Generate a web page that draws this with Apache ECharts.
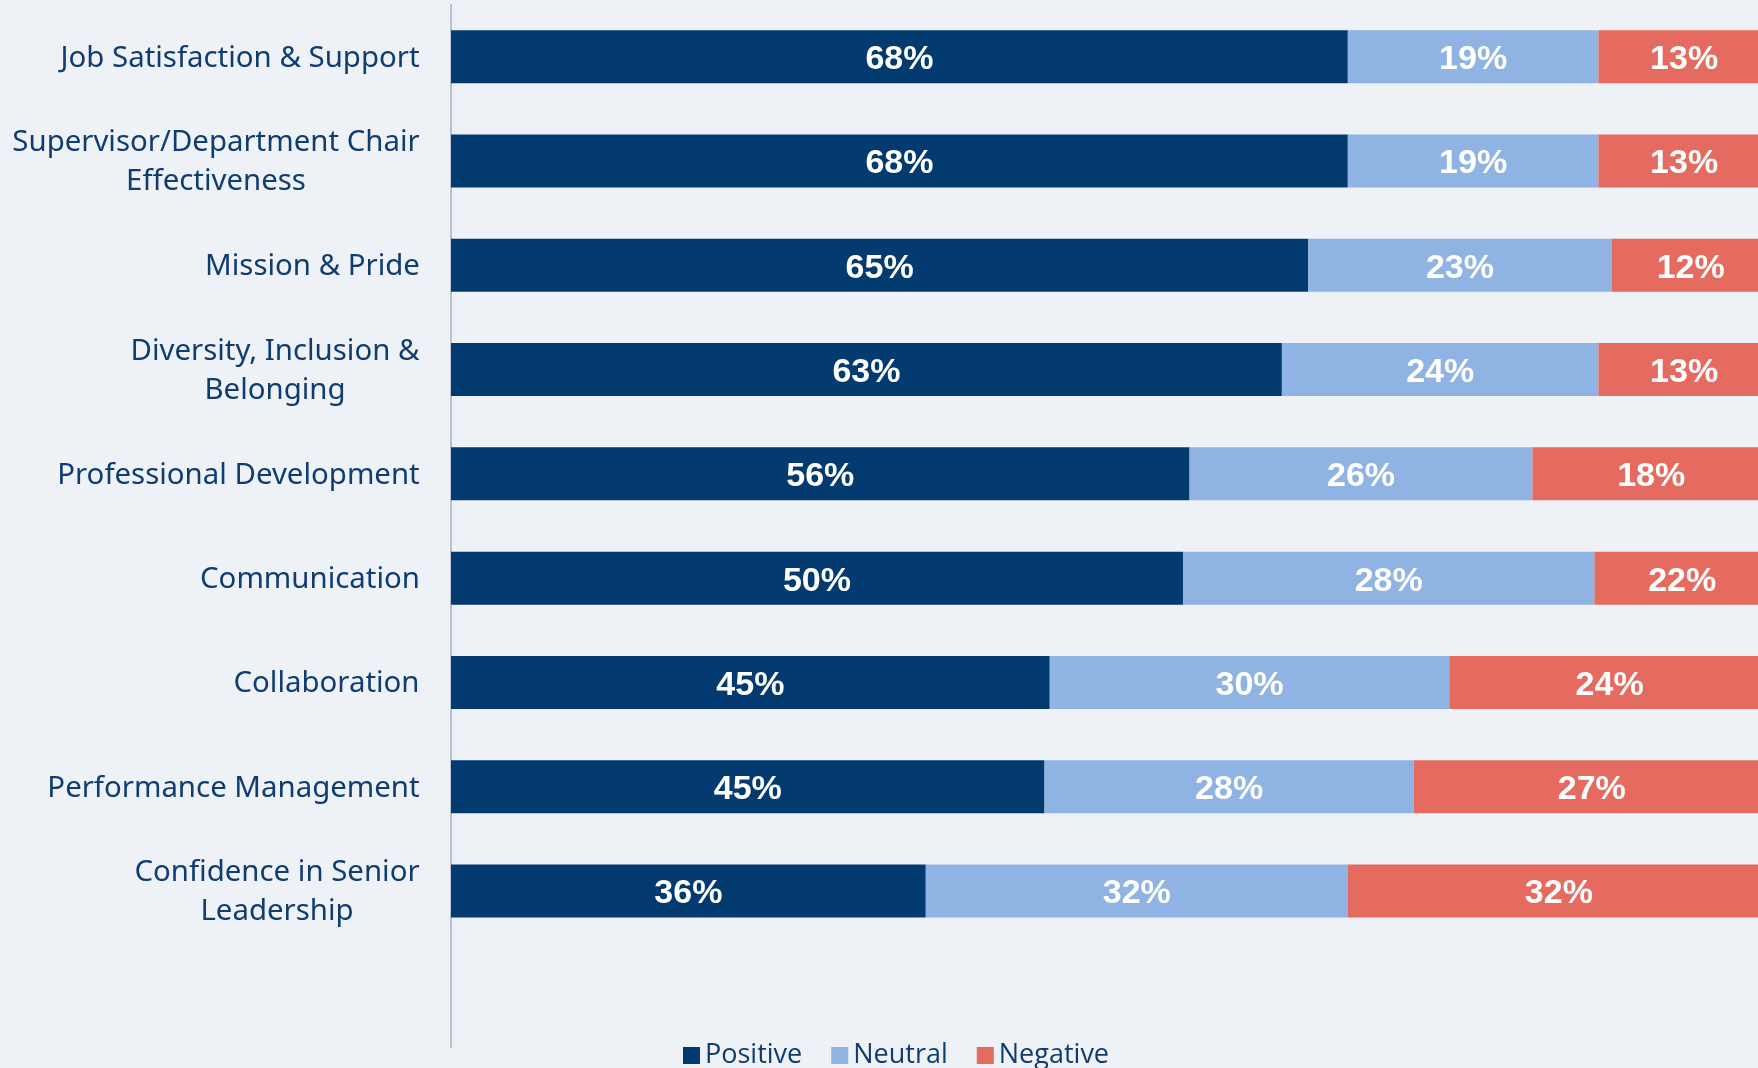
<!DOCTYPE html>
<html>
  <head>
    <meta charset="utf-8" />
    <title>Survey themes</title>
    <script src="https://cdn.jsdelivr.net/npm/echarts@6.0.0/dist/echarts.min.js"></script>
    <style>
      html, body { margin: 0; padding: 0; background: #eef2f6; }
    </style>
  </head>
  <body>
    <div id="main" style="width: 1758px;height:1068px;"></div>
    <script type="text/javascript">
      // categories (last one is the blank row at the bottom of the axis)
      var categories = [
        'Job Satisfaction & Support',
        'Supervisor/Department Chair\nEffectiveness',
        'Mission & Pride',
        'Diversity, Inclusion &\nBelonging',
        'Professional Development',
        'Communication',
        'Collaboration',
        'Performance Management',
        'Confidence in Senior\nLeadership',
        ''
      ];
      // bar lengths
      var positive = [68, 68, 65, 63, 56, 55.5, 45.4, 45, 36, '-'];
      var neutral = [19, 19, 23, 24, 26, 31.2, 30.3, 28, 32, '-'];
      var negative = [13, 13, 12, 13, 18, 13.3, 24.3, 27, 32, '-'];
      // printed data labels
      var positiveLabels = ['68%', '68%', '65%', '63%', '56%', '50%', '45%', '45%', '36%', ''];
      var neutralLabels = ['19%', '19%', '23%', '24%', '26%', '28%', '30%', '28%', '32%', ''];
      var negativeLabels = ['13%', '13%', '12%', '13%', '18%', '22%', '24%', '27%', '32%', ''];

      var textColor = '#0f3d70';
      var labelSize = 29.4;
      var labelFamily = 'Noto Sans';

      // measure lines so two-line labels are centred within a right-aligned block
      var ctx = document.createElement('canvas').getContext('2d');
      ctx.font = labelSize + 'px "' + labelFamily + '"';
      var rich = {};
      categories.forEach(function (c, i) {
        var w = 0;
        c.split('\n').forEach(function (s) {
          w = Math.max(w, ctx.measureText(s).width);
        });
        rich['c' + i] = {
          width: Math.ceil(w) + 2,
          align: 'center',
          fontSize: labelSize,
          fontFamily: labelFamily,
          color: textColor,
          lineHeight: 39
        };
      });

      var chartDom = document.getElementById('main');
      var myChart = echarts.init(chartDom);
      var option;

      function barLabel(texts) {
        return {
          show: true,
          position: 'inside',
          offset: [0, 3],
          color: '#ffffff',
          fontFamily: 'Liberation Sans',
          fontWeight: 'bold',
          fontSize: 34,
          formatter: function (p) {
            return texts[p.dataIndex];
          }
        };
      }

      option = {
        animation: false,
        backgroundColor: '#eef2f6',
        legend: {
          left: 678,
          top: 1037,
          itemWidth: 17,
          itemHeight: 17,
          itemGap: 29,
          icon: 'rect',
          textStyle: {
            color: textColor,
            fontFamily: 'Open Sans',
            fontSize: 27
          },
          data: ['Positive', 'Neutral', 'Negative']
        },
        grid: {
          left: 451,
          right: 0,
          top: 4.5,
          bottom: 20.5
        },
        xAxis: {
          type: 'value',
          min: 0,
          // the picture is cut off at the right, just short of 100%
          max: 99.1,
          show: false
        },
        yAxis: {
          type: 'category',
          inverse: true,
          data: categories,
          axisLine: {
            show: true,
            lineStyle: { color: '#a8b0c0', width: 1.5 }
          },
          axisTick: { show: false },
          axisLabel: {
            margin: 30,
            padding: [3, 0, 0, 0],
            formatter: function (value, index) {
              if (!value) return '';
              return value.split('\n').map(function (s) {
                return '{c' + index + '|' + s + '}';
              }).join('\n');
            },
            rich: rich
          }
        },
        series: [
          {
            name: 'Positive',
            type: 'bar',
            stack: 'total',
            barWidth: 53,
            clip: false,
            itemStyle: { color: '#033a70' },
            label: barLabel(positiveLabels),
            data: positive
          },
          {
            name: 'Neutral',
            type: 'bar',
            stack: 'total',
            barWidth: 53,
            clip: false,
            itemStyle: { color: '#8fb3e2' },
            label: barLabel(neutralLabels),
            data: neutral
          },
          {
            name: 'Negative',
            type: 'bar',
            stack: 'total',
            barWidth: 53,
            clip: false,
            itemStyle: { color: '#e56a5f' },
            label: barLabel(negativeLabels),
            data: negative
          }
        ]
      };

      option && myChart.setOption(option);
    </script>
  </body>
</html>
